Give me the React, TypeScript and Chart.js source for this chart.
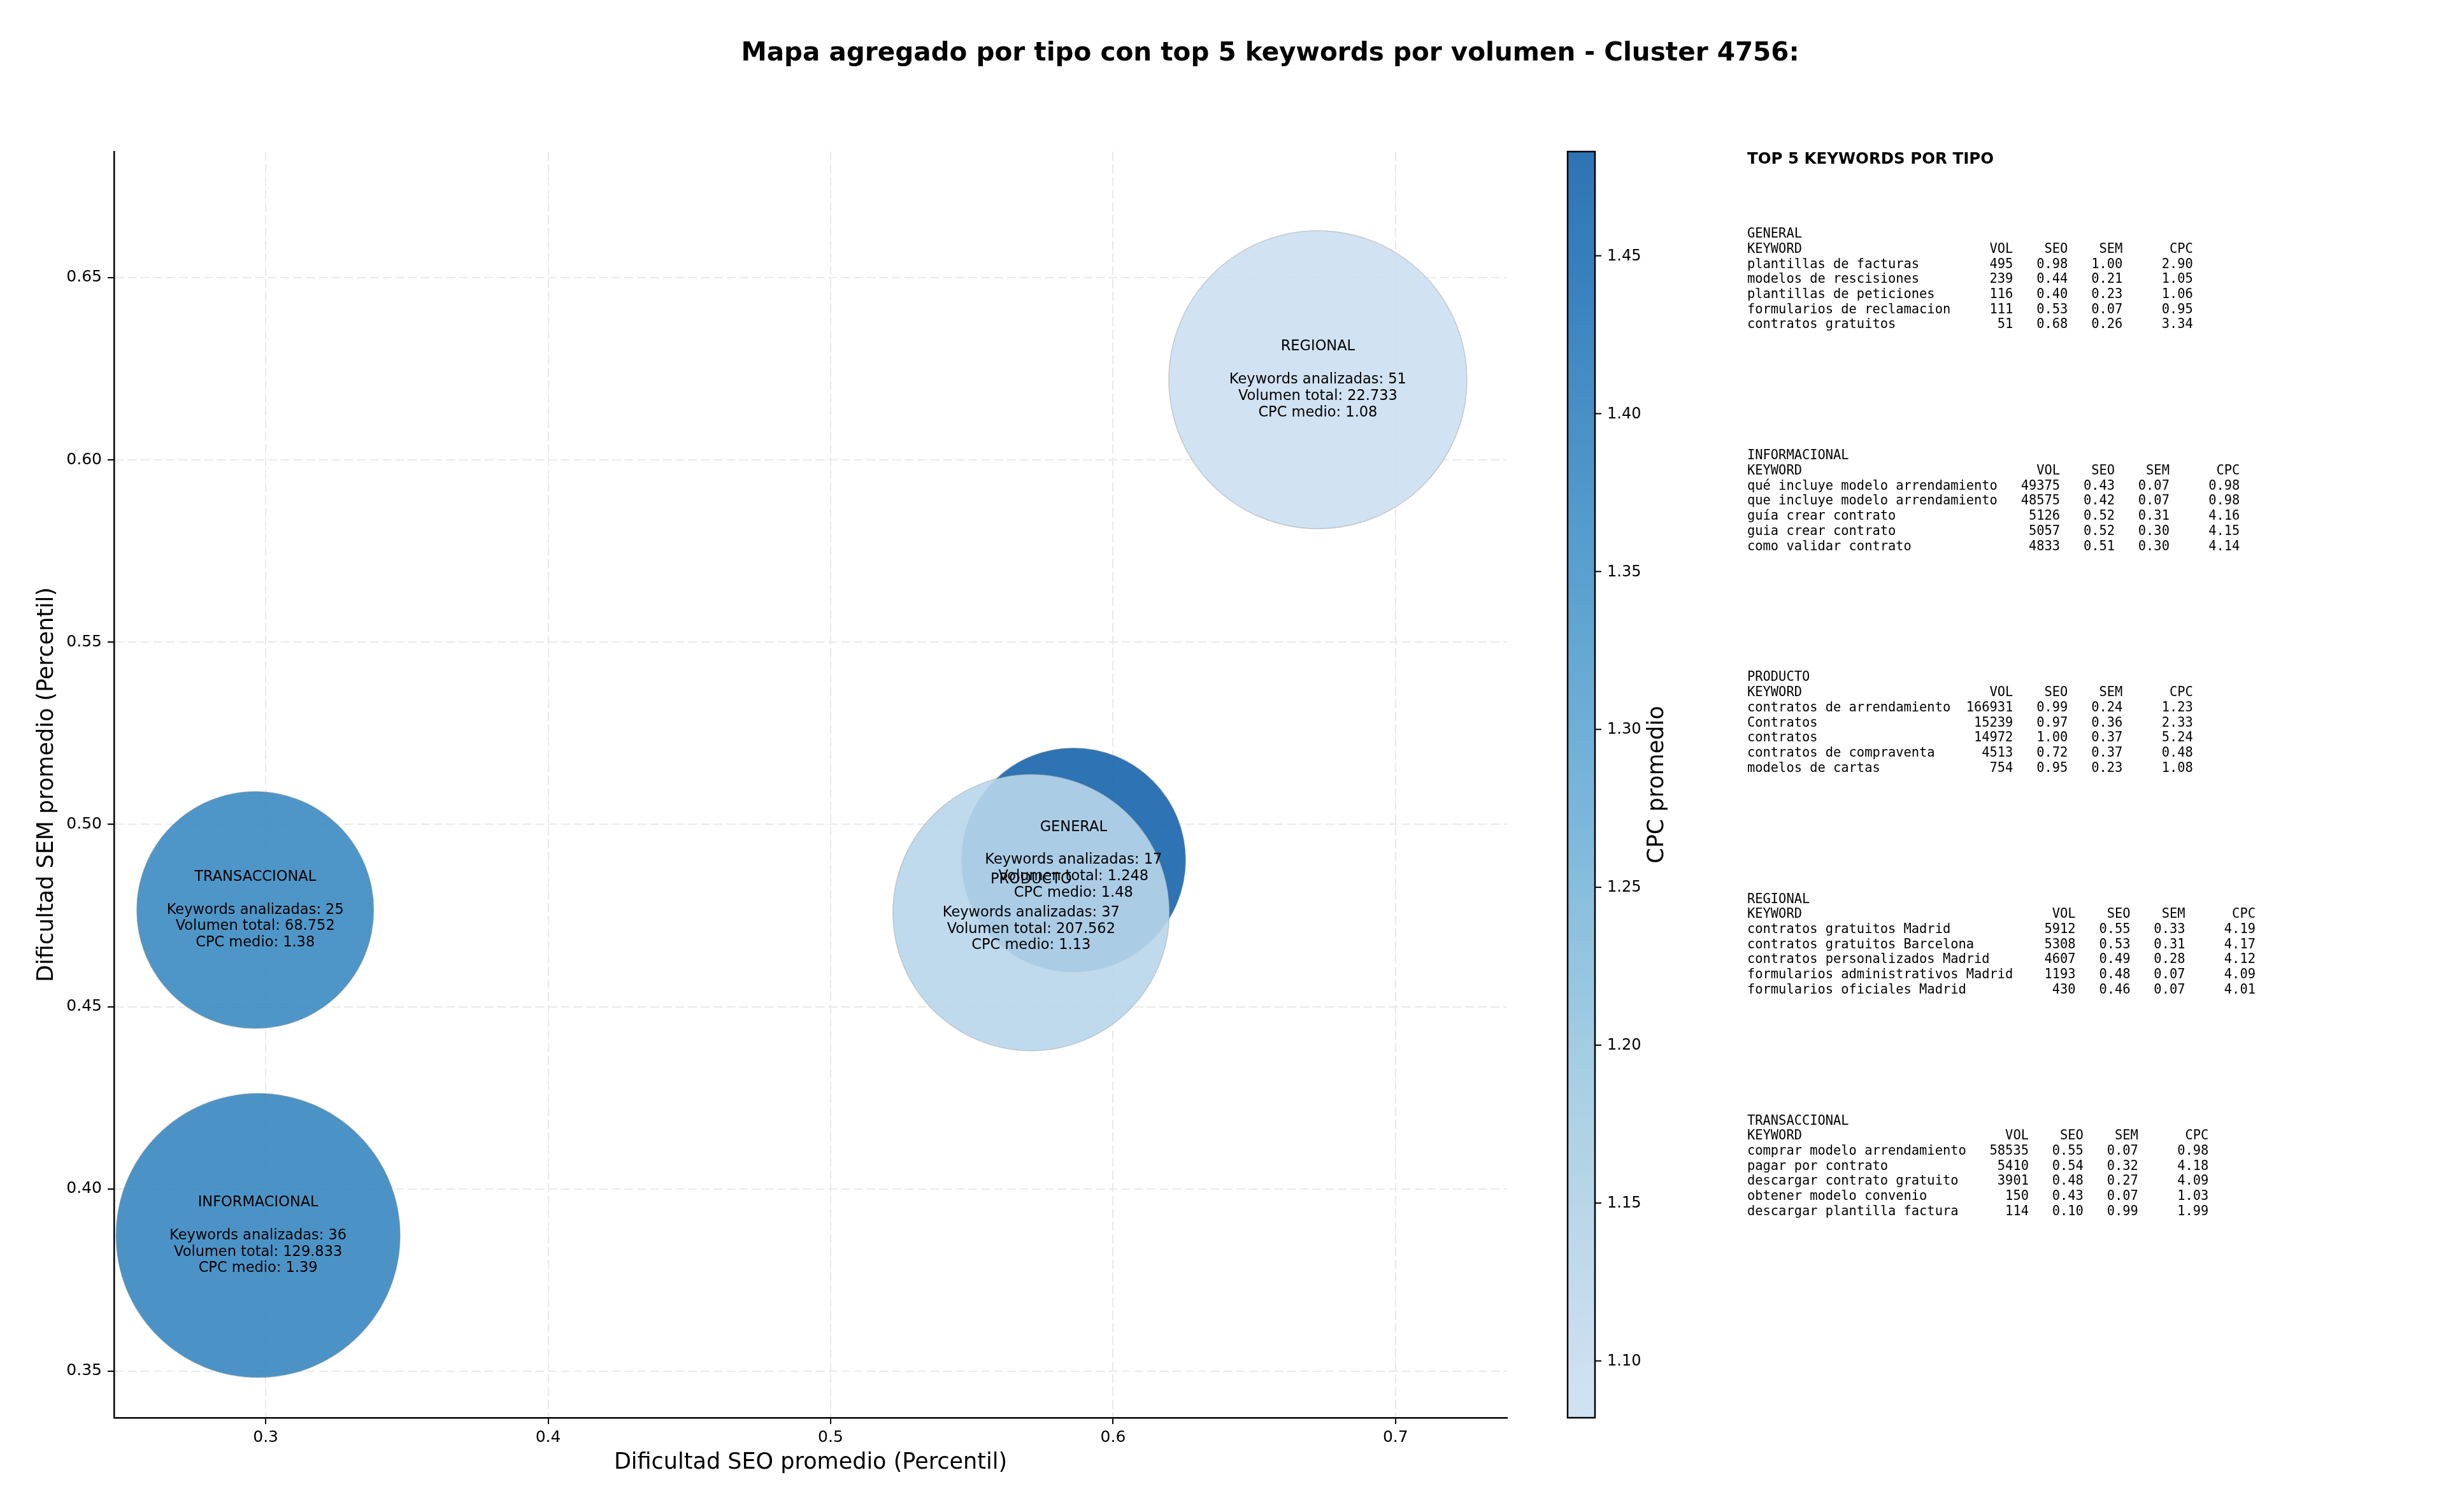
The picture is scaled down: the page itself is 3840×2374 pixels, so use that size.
import { useEffect, useRef } from 'react';
import { Chart, registerables } from 'chart.js';

Chart.register(...registerables);

// ---------- Datos del gráfico ----------
const TIPOS = ['GENERAL', 'INFORMACIONAL', 'PRODUCTO', 'REGIONAL', 'TRANSACCIONAL'];
const SEO_MEDIO = [0.586, 0.2973, 0.571, 0.6725, 0.2963];
const SEM_MEDIO = [0.4902, 0.3872, 0.4758, 0.622, 0.4765];
const KEYWORDS_ANALIZADAS = [17, 36, 37, 51, 25];
const VOLUMEN_TOTAL = [1248, 129833, 207562, 22733, 68752];
const CPC_MEDIO = [1.483, 1.39, 1.13, 1.082, 1.38];
const TAMANO_BURBUJA = [176, 223, 217, 234, 186];

const X_TICKS = [0.3, 0.4, 0.5, 0.6, 0.7];
const Y_TICKS = [0.35, 0.4, 0.45, 0.5, 0.55, 0.6, 0.65];
const CPC_TICKS = [1.1, 1.15, 1.2, 1.25, 1.3, 1.35, 1.4, 1.45];

const X_RANGE = [0.2463, 0.7395];
const Y_RANGE = [0.3372, 0.6846];

// Top 5 keywords por tipo: [keyword, vol, seo, sem, cpc]
const TOP_GENERAL: [string, number, number, number, number][] = [
  ['plantillas de facturas', 495, 0.98, 1.0, 2.9],
  ['modelos de rescisiones', 239, 0.44, 0.21, 1.05],
  ['plantillas de peticiones', 116, 0.4, 0.23, 1.06],
  ['formularios de reclamacion', 111, 0.53, 0.07, 0.95],
  ['contratos gratuitos', 51, 0.68, 0.26, 3.34],
];
const TOP_INFORMACIONAL: [string, number, number, number, number][] = [
  ['qué incluye modelo arrendamiento', 49375, 0.43, 0.07, 0.98],
  ['que incluye modelo arrendamiento', 48575, 0.42, 0.07, 0.98],
  ['guía crear contrato', 5126, 0.52, 0.31, 4.16],
  ['guia crear contrato', 5057, 0.52, 0.3, 4.15],
  ['como validar contrato', 4833, 0.51, 0.3, 4.14],
];
const TOP_PRODUCTO: [string, number, number, number, number][] = [
  ['contratos de arrendamiento', 166931, 0.99, 0.24, 1.23],
  ['Contratos', 15239, 0.97, 0.36, 2.33],
  ['contratos', 14972, 1.0, 0.37, 5.24],
  ['contratos de compraventa', 4513, 0.72, 0.37, 0.48],
  ['modelos de cartas', 754, 0.95, 0.23, 1.08],
];
const TOP_REGIONAL: [string, number, number, number, number][] = [
  ['contratos gratuitos Madrid', 5912, 0.55, 0.33, 4.19],
  ['contratos gratuitos Barcelona', 5308, 0.53, 0.31, 4.17],
  ['contratos personalizados Madrid', 4607, 0.49, 0.28, 4.12],
  ['formularios administrativos Madrid', 1193, 0.48, 0.07, 4.09],
  ['formularios oficiales Madrid', 430, 0.46, 0.07, 4.01],
];
const TOP_TRANSACCIONAL: [string, number, number, number, number][] = [
  ['comprar modelo arrendamiento', 58535, 0.55, 0.07, 0.98],
  ['pagar por contrato', 5410, 0.54, 0.32, 4.18],
  ['descargar contrato gratuito', 3901, 0.48, 0.27, 4.09],
  ['obtener modelo convenio', 150, 0.43, 0.07, 1.03],
  ['descargar plantilla factura', 114, 0.1, 0.99, 1.99],
];
const TOP_POR_TIPO = [TOP_GENERAL, TOP_INFORMACIONAL, TOP_PRODUCTO, TOP_REGIONAL, TOP_TRANSACCIONAL];

const TITULO = 'Mapa agregado por tipo con top 5 keywords por volumen - Cluster 4756:';

// ---------- Estilos ----------
const SANS = '"DejaVu Sans", "Liberation Sans", sans-serif';
const MONO = '"DejaVu Sans Mono", "Liberation Mono", monospace';
const W = 3840;
const H = 2374;
const AREA = { left: 179, top: 238, right: 2366, bottom: 2226 };

const BLUES = [
  [247, 251, 255], [222, 235, 247], [198, 219, 239], [158, 202, 225], [107, 174, 214],
  [66, 146, 198], [33, 113, 181], [8, 81, 156], [8, 48, 107],
];
function blues(t: number) {
  const p = Math.min(Math.max(t, 0), 1) * 8;
  const i = Math.min(Math.floor(p), 7);
  const f = p - i;
  return BLUES[i].map((c, k) => c + (BLUES[i + 1][k] - c) * f);
}
const CB_MIN = Math.min(...CPC_MEDIO);
const CB_MAX = Math.max(...CPC_MEDIO);
function cpcColor(v: number, a = 0.9) {
  const t = (v - CB_MIN) / (CB_MAX - CB_MIN);
  const c = blues(0.22 + t * 0.58).map(Math.round);
  return `rgba(${c[0]},${c[1]},${c[2]},${a})`;
}
function fmtMiles(n: number) {
  return String(n).replace(/\B(?=(\d{3})+(?!\d))/g, '.');
}

const overlay = {
  id: 'overlay',
  afterDatasetsDraw(chart: any) {
    const ctx = chart.ctx as CanvasRenderingContext2D;
    const xs = chart.scales.x;
    const ys = chart.scales.y;
    ctx.save();
    ctx.fillStyle = '#000';
    ctx.font = `22.5px ${SANS}`;
    ctx.textAlign = 'center';
    ctx.textBaseline = 'middle';
    const LH = 25.8;
    TIPOS.forEach((t, i) => {
      const cx = xs.getPixelForValue(SEO_MEDIO[i]);
      const cy = ys.getPixelForValue(SEM_MEDIO[i]);
      const lines = [
        t,
        '',
        `Keywords analizadas: ${KEYWORDS_ANALIZADAS[i]}`,
        `Volumen total: ${fmtMiles(VOLUMEN_TOTAL[i])}`,
        `CPC medio: ${CPC_MEDIO[i].toFixed(2)}`,
      ];
      lines.forEach((l, k) => ctx.fillText(l, cx, cy + (k - 2) * LH));
    });
    ctx.restore();
  },
  afterDraw(chart: any) {
    const ctx = chart.ctx as CanvasRenderingContext2D;
    const cb = chart.scales.cb;
    ctx.save();
    // Título
    ctx.fillStyle = '#000';
    ctx.font = `bold 40.5px ${SANS}`;
    ctx.textAlign = 'center';
    ctx.textBaseline = 'middle';
    ctx.fillText(TITULO, 1994, 84);

    // Barra de color
    const bx = 2461, bw = 43;
    const top = cb.getPixelForValue(CB_MAX);
    const bot = cb.getPixelForValue(CB_MIN);
    const g = ctx.createLinearGradient(0, bot, 0, top);
    for (let s = 0; s <= 40; s++) {
      const v = CB_MIN + (CB_MAX - CB_MIN) * (s / 40);
      g.addColorStop(s / 40, cpcColor(v, 0.9));
    }
    ctx.fillStyle = g;
    ctx.fillRect(bx, top, bw, bot - top);
    ctx.strokeStyle = '#000';
    ctx.lineWidth = 2.5;
    ctx.strokeRect(bx, top, bw, bot - top);
    ctx.font = `24px ${SANS}`;
    ctx.textAlign = 'left';
    ctx.fillStyle = '#000';
    ctx.lineWidth = 2;
    CPC_TICKS.forEach((v) => {
      const y = cb.getPixelForValue(v);
      ctx.beginPath();
      ctx.moveTo(bx + bw, y);
      ctx.lineTo(bx + bw + 10, y);
      ctx.stroke();
      ctx.fillText(v.toFixed(2), 2523, y + 1);
    });
    ctx.save();
    ctx.translate(2602, (top + bot) / 2);
    ctx.rotate(-Math.PI / 2);
    ctx.textAlign = 'center';
    ctx.font = `35px ${SANS}`;
    ctx.fillText('CPC promedio', 0, 0);
    ctx.restore();

    // Panel de texto
    ctx.textAlign = 'left';
    ctx.textBaseline = 'middle';
    ctx.font = `bold 24.5px ${SANS}`;
    ctx.fillText('TOP 5 KEYWORDS POR TIPO', 2743, 251);
    ctx.font = `20.4px ${MONO}`;
    const LH = 23.7;
    TOP_POR_TIPO.forEach((rows, i) => {
      const y0 = 368 + i * 348.1;
      const w = Math.max(...rows.map((r) => r[0].length));
      const lines = [
        TIPOS[i],
        'KEYWORD'.padEnd(w) + ' ' + 'VOL'.padStart(7) + ' ' + 'SEO'.padStart(6) + ' ' + 'SEM'.padStart(6) + ' ' + 'CPC'.padStart(8),
        ...rows.map((r) =>
          r[0].padEnd(w) + ' ' + String(r[1]).padStart(7) + ' ' + r[2].toFixed(2).padStart(6) + ' ' +
          r[3].toFixed(2).padStart(6) + ' ' + r[4].toFixed(2).padStart(8)
        ),
      ];
      lines.forEach((l, k) => ctx.fillText(l, 2743, y0 + k * LH));
    });
    ctx.restore();
  },
};

export default function App() {
  const ref = useRef<HTMLCanvasElement>(null);
  useEffect(() => {
    document.body.style.margin = '0';
    const canvas = ref.current!;
    const gridCommon = {
      color: '#e9e9e9',
      lineWidth: 2,
      tickLength: 10,
      tickColor: '#000',
      tickWidth: 2,
    };
    const borderCommon = { display: true, color: '#000', width: 2.5, dash: [14, 6] };
    const chart = new Chart(canvas, {
      type: 'bubble',
      data: {
        datasets: [
          {
            data: TIPOS.map((_, i) => ({ x: SEO_MEDIO[i], y: SEM_MEDIO[i], r: TAMANO_BURBUJA[i] })),
            backgroundColor: CPC_MEDIO.map((c) => cpcColor(c, 0.9)),
            borderColor: 'rgba(128,128,128,0.35)',
            borderWidth: 1.5,
            hoverRadius: 0,
            clip: false as any,
          },
        ],
      },
      options: {
        responsive: false,
        animation: false,
        devicePixelRatio: 1,
        events: [],
        layout: {
          autoPadding: false,
          padding: { left: 0, top: AREA.top, right: W - AREA.right, bottom: 0 },
        },
        plugins: { legend: { display: false }, tooltip: { enabled: false }, title: { display: false } },
        scales: {
          x: {
            type: 'linear',
            position: 'bottom',
            min: X_RANGE[0],
            max: X_RANGE[1],
            afterFit: (s: any) => { s.height = H - AREA.bottom; },
            afterBuildTicks: (s: any) => { s.ticks = X_TICKS.map((v) => ({ value: v })); },
            ticks: {
              callback: (v: any) => Number(v).toFixed(1),
              font: { family: SANS, size: 25 },
              color: '#000',
              padding: 6,
              maxRotation: 0,
              autoSkip: false,
            },
            grid: gridCommon,
            border: borderCommon,
            title: {
              display: true,
              text: 'Dificultad SEO promedio (Percentil)',
              font: { family: SANS, size: 35 },
              color: '#000',
              padding: { top: 0, bottom: 56 },
            },
          },
          y: {
            type: 'linear',
            position: 'left',
            min: Y_RANGE[0],
            max: Y_RANGE[1],
            afterFit: (s: any) => { s.width = AREA.left; },
            afterBuildTicks: (s: any) => { s.ticks = Y_TICKS.map((v) => ({ value: v })); },
            ticks: {
              callback: (v: any) => Number(v).toFixed(2),
              font: { family: SANS, size: 25 },
              color: '#000',
              padding: 9,
              autoSkip: false,
            },
            grid: gridCommon,
            border: borderCommon,
            title: {
              display: true,
              text: 'Dificultad SEM promedio (Percentil)',
              font: { family: SANS, size: 35 },
              color: '#000',
              padding: { top: 53, bottom: 0 },
            },
          },
          cb: {
            type: 'linear',
            axis: 'y',
            position: 'right',
            display: false,
            min: CB_MIN,
            max: CB_MAX,
          },
        },
      } as any,
      plugins: [overlay],
    });
    return () => chart.destroy();
  }, []);
  return (
    <canvas
      ref={ref}
      width={W}
      height={H}
      style={{ display: 'block', width: `${W}px`, height: `${H}px` }}
    />
  );
}
